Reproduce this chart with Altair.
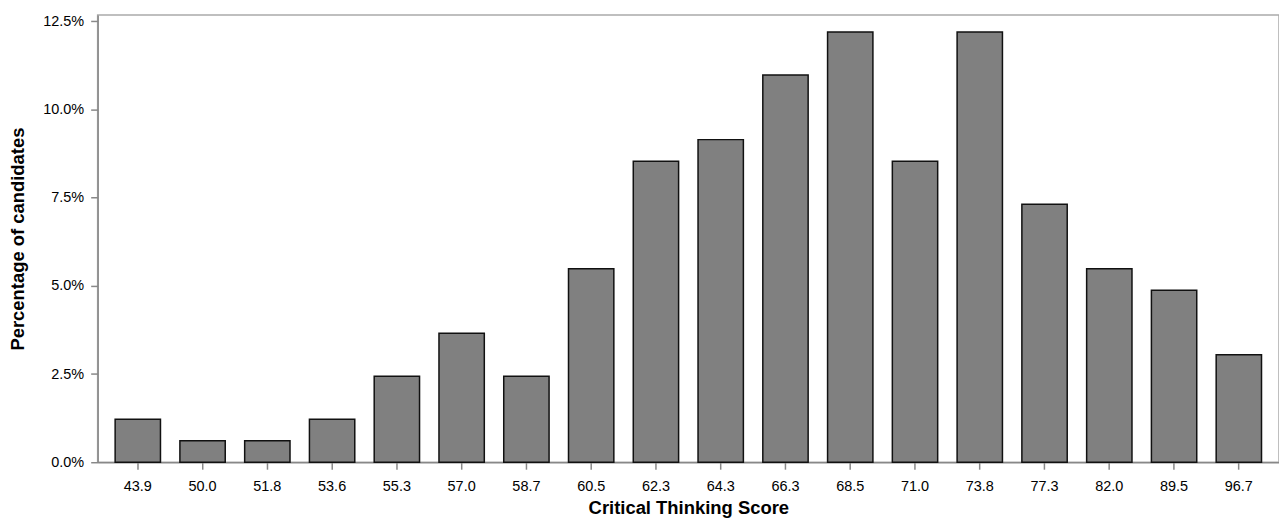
import altair as alt
import pandas as pd

scores = ["43.9", "50.0", "51.8", "53.6", "55.3", "57.0", "58.7", "60.5", "62.3",
          "64.3", "66.3", "68.5", "71.0", "73.8", "77.3", "82.0", "89.5", "96.7"]
counts = [2, 1, 1, 2, 4, 6, 4, 9, 14, 15, 18, 20, 14, 20, 12, 9, 8, 5]
total = 164
percent = [c / total for c in counts]

df = pd.DataFrame({"score": scores, "pct": percent})

font = "Liberation Sans"

chart = alt.Chart(df).mark_bar(
    color="#808080", stroke="#111111", strokeWidth=1.5
).encode(
    x=alt.X("score:N", sort=scores, title="Critical Thinking Score",
            scale=alt.Scale(paddingInner=0.3, paddingOuter=0.27),
            axis=alt.Axis(labelAngle=0, titlePadding=6, labelPadding=10)),
    y=alt.Y("pct:Q", title="Percentage of candidates",
            scale=alt.Scale(domain=[0, 0.1268], nice=False),
            axis=alt.Axis(format=".1%", values=[0, 0.025, 0.05, 0.075, 0.1, 0.125],
                          titlePadding=15, labelPadding=7, grid=False)),
).properties(
    width=1186, height=449,
    autosize=alt.AutoSizeParams(type="none"),
    padding={"left": 90, "top": 6, "right": 0, "bottom": 60},
).configure_axis(
    labelFont=font, titleFont=font, titleFontWeight="bold",
    labelFontSize=14.5, titleFontSize=18.5,
    labelColor="#000000", titleColor="#000000",
    domainColor="#888888", tickColor="#888888", tickSize=7, tickWidth=1.5,
    domainWidth=1.5, ticks=True,
).configure_view(
    stroke="#aaaaaa", strokeWidth=1.5
)

chart.save("out.html", embed_options={"renderer": "svg", "actions": False})
